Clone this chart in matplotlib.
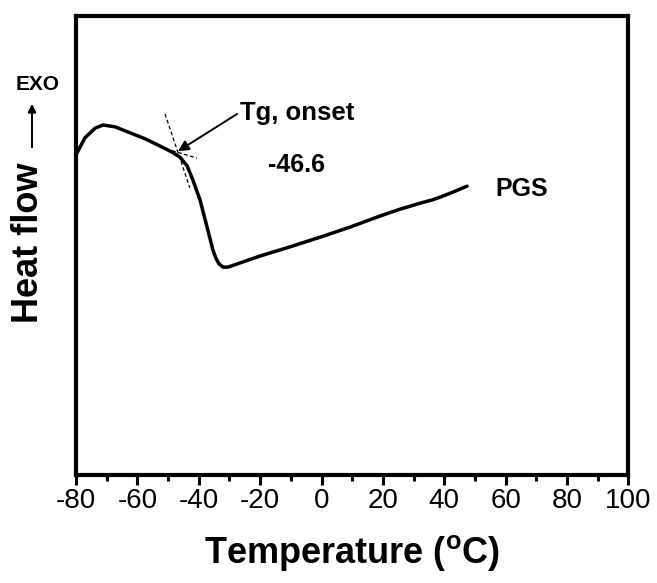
import matplotlib
matplotlib.use('Agg')
import matplotlib.pyplot as plt
from matplotlib.ticker import MultipleLocator

plt.rcParams['font.family'] = ['Liberation Sans', 'DejaVu Sans']
plt.rcParams['mathtext.fontset'] = 'custom'
plt.rcParams['mathtext.rm'] = 'Liberation Sans:bold'
plt.rcParams['mathtext.it'] = 'Liberation Sans:bold'
plt.rcParams['axes.unicode_minus'] = False

# DSC trace of PGS (heat flow in arbitrary units, exo up)
temperature = [-79.7, -77.1, -73.8, -71.2, -67.3, -62.4, -57.5, -52.6, -48.7, -46.1,
               -43.8, -41.9, -39.6, -37.3, -35.4, -34.4, -33.4, -32.1, -30.5, -26.6,
               -20.1, -10.3, -0.5, 9.3, 19.0, 25.6, 32.1, 36.0, 38.6, 43.5, 47.4]
heat_flow = [7.01, 7.34, 7.55, 7.62, 7.58, 7.45, 7.32, 7.16, 7.03, 6.92,
             6.73, 6.42, 5.99, 5.40, 4.90, 4.72, 4.60, 4.53, 4.53, 4.62,
             4.77, 4.97, 5.18, 5.40, 5.64, 5.79, 5.92, 5.99, 6.05, 6.18, 6.29]

# tangent construction for the onset
base_tangent_x = [-52.6, -40.6]
base_tangent_y = [7.14, 6.90]
step_tangent_x = [-51.0, -42.9]
step_tangent_y = [7.86, 6.25]
onset_point = (-46.8, 7.05)
onset_value = '-46.6'

fig = plt.figure(figsize=(6.57, 5.83), dpi=100)
ax = fig.add_axes([0.1157, 0.1844, 0.9566 - 0.1157, 0.9734 - 0.1844])

ax.plot(temperature, heat_flow, color='black', lw=2.5,
        solid_capstyle='round', solid_joinstyle='round')
ax.plot(base_tangent_x, base_tangent_y, color='black', lw=0.9, ls=(0, (3, 2)))
ax.plot(step_tangent_x, step_tangent_y, color='black', lw=0.9, ls=(0, (3, 2)))

ax.annotate('', xy=onset_point, xytext=(-27.5, 7.86),
            arrowprops=dict(arrowstyle='-|>', color='black', lw=1.4,
                            mutation_scale=16, shrinkA=0, shrinkB=0))
ax.text(-26.6, 7.73, 'Tg, onset', fontsize=18.5, fontweight='bold', va='baseline')
ax.text(-17.4, 6.60, onset_value, fontsize=18, fontweight='bold', va='baseline')
ax.text(56.5, 6.08, 'PGS', fontsize=18, fontweight='bold', va='baseline')

ax.set_xlim(-80, 100)
ax.set_ylim(0, 10)
ax.xaxis.set_major_locator(MultipleLocator(20))
ax.xaxis.set_minor_locator(MultipleLocator(10))
ax.set_yticks([])
ax.tick_params(axis='x', which='major', direction='out', length=7, width=2.2,
               labelsize=20, pad=2)
ax.tick_params(axis='x', which='minor', direction='out', length=4, width=2.2)
for side in ax.spines.values():
    side.set_linewidth(3)

ax.set_xlabel(r'Temperature ($^{\mathrm{o}}$C)', fontsize=26, fontweight='bold', labelpad=14)

fig.text(29 / 657, 1 - 243 / 583, 'Heat flow', rotation=90, fontsize=26,
         fontweight='bold', ha='center', va='center')
fig.text(38 / 657, 1 - 85 / 583, 'EXO', fontsize=15, fontweight='bold',
         ha='center', va='center')
fig.patches.append(matplotlib.patches.FancyArrowPatch(
    (32 / 657, 1 - 150 / 583), (32 / 657, 1 - 101 / 583),
    transform=fig.transFigure, arrowstyle='-|>', mutation_scale=12,
    color='black', lw=1.4))

fig.savefig('out.png', dpi=100)
